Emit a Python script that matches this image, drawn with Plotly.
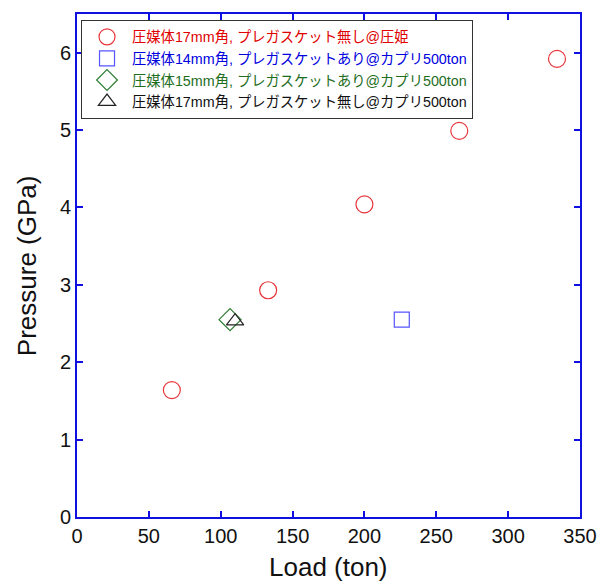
import plotly.graph_objects as go

# Data
s1_name = "圧媒体17mm角, プレガスケット無し@圧姫"
s1_load = [66, 133, 200, 266, 334]
s1_pres = [1.64, 2.93, 4.04, 4.99, 5.92]

s2_name = "圧媒体14mm角, プレガスケットあり@カプリ500ton"
s2_load = [226]
s2_pres = [2.55]

s3_name = "圧媒体15mm角, プレガスケットあり@カプリ500ton"
s3_load = [106.5]
s3_pres = [2.55]

s4_name = "圧媒体17mm角, プレガスケット無し@カプリ500ton"
s4_load = [110]
s4_pres = [2.53]

x_ticks = [0, 50, 100, 150, 200, 250, 300, 350]
y_ticks = [0, 1, 2, 3, 4, 5, 6]
x_title = "Load (ton)"
y_title = "Pressure (GPa)"

series = [
    (s1_name, s1_load, s1_pres, "circle-open", "#e8353a", "#e00000", 17),
    (s2_name, s2_load, s2_pres, "square-open", "#5555ff", "#0000dd", 15),
    (s3_name, s3_load, s3_pres, "diamond-open", "#2e7d32", "#1e6e1e", 17),
    (s4_name, s4_load, s4_pres, "triangle-up-open", "#222222", "#111111", 15),
]

fig = go.Figure()
for name, xs, ys, sym, mcol, tcol, sz in series:
    fig.add_trace(go.Scatter(
        x=xs, y=ys, mode="markers",
        name=f"<span style='color:{tcol}'>{name}</span>",
        marker=dict(symbol=sym, size=sz, color=mcol, line=dict(width=1.2, color=mcol)),
    ))

axis_common = dict(
    showline=True, linecolor="#1010e0", linewidth=2, mirror="ticks",
    ticks="inside", ticklen=6, tickwidth=1.5, tickcolor="#1010e0",
    showgrid=False, zeroline=False,
    tickfont=dict(family="Liberation Sans, Arial", size=20, color="#111111"),
)

title_font = dict(size=26, family="Liberation Sans, Arial", color="#111111")

fig.update_layout(
    width=608, height=581,
    margin=dict(l=77, r=28, t=14, b=64),
    paper_bgcolor="white", plot_bgcolor="white",
    font=dict(family="Liberation Sans, Noto Sans CJK JP", color="#111111"),
    xaxis=dict(range=[0, 350], tickvals=x_ticks, **axis_common),
    yaxis=dict(range=[0, 6.5], tickvals=y_ticks, **axis_common),
    legend=dict(x=0.008, y=0.988, xanchor="left", yanchor="top",
                bgcolor="white", bordercolor="#333333", borderwidth=1,
                font=dict(family="Liberation Sans, Noto Sans CJK JP", size=14.3),
                tracegroupgap=0, itemwidth=40),
    showlegend=True,
    annotations=[
        dict(text=x_title, xref="paper", yref="paper", x=0.5, y=-0.099,
             xanchor="center", yanchor="middle", showarrow=False, font=title_font),
        dict(text=y_title, xref="paper", yref="paper", x=-0.1, y=0.5,
             xanchor="center", yanchor="middle", textangle=-90, showarrow=False, font=title_font),
    ],
)

fig.write_html(
    "out.html",
    config={"displayModeBar": False},
    post_script="document.body.style.margin='0';document.body.style.overflow='hidden';",
)
